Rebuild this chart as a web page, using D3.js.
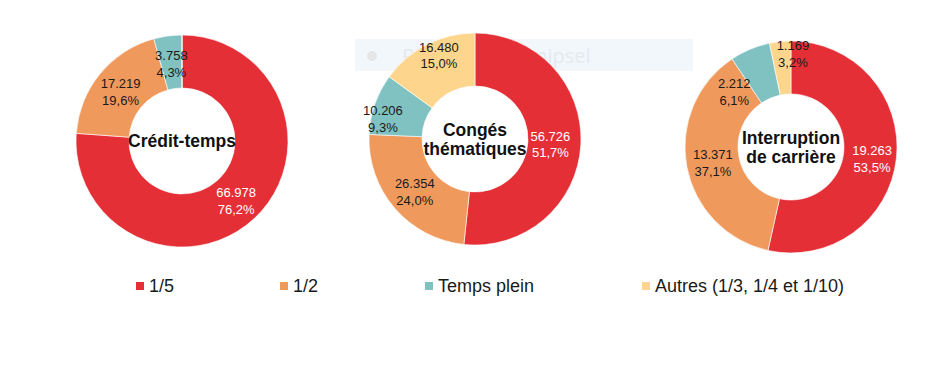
<!DOCTYPE html>
<html>
<head>
<meta charset="utf-8">
<script src="https://cdn.jsdelivr.net/npm/d3@7"></script>
<style>
  body { margin: 0; background: #fff; }
  svg { font-family: "Liberation Sans", Arial, sans-serif; }
</style>
</head>
<body>
<svg width="945" height="376"></svg>
<script>
// legend categories, same order as the slices (clockwise from 12 o'clock)
const categories = ["1/5", "1/2", "Temps plein", "Autres (1/3, 1/4 et 1/10)"];
const colors = ["#e42f37", "#f0995d", "#7fc2c1", "#fdd58d"];

// the three donuts
const titles = [["Crédit-temps"], ["Congés", "thématiques"], ["Interruption", "de carrière"]];
const creditTemps = [66978, 17219, 3758, 0];
const congesThematiques = [56726, 26354, 10206, 16480];
const interruptionCarriere = [19263, 13371, 2212, 1169];

// layout only
const centers = [[182, 141], [475, 139], [791, 147]];
// some labels were dragged by hand in the original
const labelNudge = [
    [[0, 0], [0, 0], [0, 0], [0, 0]],
    [[-4, 0], [0, 0], [-17, 5], [0, -14]],
    [[2, 2], [0, 0], [-26, 17], [10, -15]]
];

const svg = d3.select("svg");

// faint clipboard popup left in the screenshot
const pop = svg.append("g");
pop.append("rect").attr("x", 355).attr("y", 39).attr("width", 338).attr("height", 32)
    .attr("fill", "#f2f7fc");
pop.append("circle").attr("cx", 372).attr("cy", 56).attr("r", 5).attr("fill", "#e6e6e6");
pop.append("text").attr("x", 402).attr("y", 63).attr("font-size", 20)
    .attr("font-family", "'Open Sans', sans-serif")
    .attr("fill", "#e6e9ec").text("Recent gekig knipsel");

const pie = d3.pie().sort(null).value(d => d);
const arc = d3.arc().innerRadius(53).outerRadius(106);
const fmtNum = d3.formatLocale({decimal: ",", thousands: ".", grouping: [3]});
const fmtInt = fmtNum.format(",d");
const fmtPct = fmtNum.format(".1%");

[creditTemps, congesThematiques, interruptionCarriere].forEach(function(values, k) {
    const total = d3.sum(values);
    const g = svg.append("g")
        .attr("transform", "translate(" + centers[k][0] + "," + centers[k][1] + ")");

    const arcs = pie(values);

    g.selectAll("path")
        .data(arcs)
        .enter().append("path")
        .attr("d", arc)
        .attr("fill", (d, i) => colors[i])
        .attr("stroke", "#fff")
        .attr("stroke-width", 0.6);

    // value + share labels
    const lab = g.selectAll("text.lab")
        .data(arcs.filter(d => d.value > 0))
        .enter().append("text")
        .classed("lab", true)
        .attr("transform", function(d) {
            const c = arc.centroid(d);
            const n = labelNudge[k][d.index];
            return "translate(" + (c[0] + n[0]) + "," + (c[1] + n[1]) + ")";
        })
        .attr("text-anchor", "middle")
        .attr("font-size", 13)
        .attr("fill", d => d.index === 0 ? "#fff" : "#1a1a1a");
    lab.append("tspan").attr("x", 0).attr("dy", "-0.2em").text(d => fmtInt(d.value));
    lab.append("tspan").attr("x", 0).attr("dy", "1.3em").text(d => fmtPct(d.value / total));

    // title in the hole
    const t = g.append("text")
        .attr("text-anchor", "middle")
        .attr("font-size", 17.5)
        .attr("font-weight", "bold")
        .attr("fill", "#111");
    const lines = titles[k];
    lines.forEach(function(line, j) {
        t.append("tspan")
            .attr("x", 0)
            .attr("y", (j - (lines.length - 1) / 2) * 19 + 6)
            .text(line);
    });
});

// legend
const legendX = [136, 280, 425, 642];
const leg = svg.append("g").attr("transform", "translate(0,286)");
const items = leg.selectAll("g")
    .data(categories)
    .enter().append("g")
    .attr("transform", (d, i) => "translate(" + legendX[i] + ",0)");
items.append("rect")
    .attr("x", 0).attr("y", -4).attr("width", 8).attr("height", 8)
    .attr("fill", (d, i) => colors[i]);
items.append("text")
    .attr("x", 13).attr("y", 6)
    .attr("font-size", 18)
    .attr("fill", "#1a1a1a")
    .text(d => d);
</script>
</body>
</html>
